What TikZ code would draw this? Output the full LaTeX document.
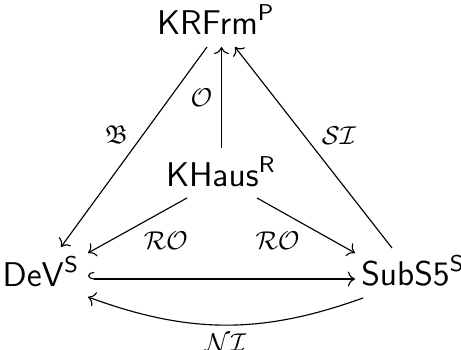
\documentclass[tikz,border=0pt]{standalone}
\usepackage{amssymb}
\usetikzlibrary{arrows.meta,calc}
\begin{document}
\begin{tikzpicture}[x=0.35pt,y=-0.35pt,
  obj/.style={inner sep=0pt, anchor=base, font=\fontsize{12}{14}\selectfont},
  lab/.style={inner sep=0pt, font=\small},
  arr/.style={-{Computer Modern Rightarrow}, line width=0.4pt},
  hookarr/.style={{Hooks[right,length=2.2pt,width=5pt]}-{Computer Modern Rightarrow}, line width=0.4pt}]
\useasboundingbox (0,0) rectangle (461,350);
\node[obj] (K) at (216,35) {$\mathsf{KRFrm}^{\mathsf{P}}$};
\node[obj] (H) at (221,187) {$\mathsf{KHaus}^{\mathsf{R}}$};
\node[obj] (D) at (41,287) {$\mathsf{DeV}^{\mathsf{S}}$};
\node[obj] (S) at (413,286) {$\mathsf{SubS5}^{\mathsf{S}}$};
% B
\draw[arr] ($(K.base)+(-9,12)$) -- node[lab, pos=0.44, left=5pt] {$\mathfrak{B}$} ($(D.base)+(20,-40)$);
% O
\draw[arr] ($(H.base)+(0.5,-39)$) -- node[lab, pos=0.5, left=3pt] {$\mathcal{O}$} ($(K.base)+(5.5,12)$);
% SI
\draw[arr] ($(S.base)+(-21,-38)$) -- node[lab, pos=0.56, right=6pt] {$\mathcal{SI}$} ($(K.base)+(19,12)$);
% RO left
\draw[arr] ($(H.base)+(-34,11)$) -- node[lab, pos=0.5, anchor=north west, inner sep=2pt] {$\mathcal{RO}$} ($(D.base)+(47,-34)$);
% RO right
\draw[arr] ($(H.base)+(36,11)$) -- node[lab, pos=0.5, anchor=north east, inner sep=2pt] {$\mathcal{RO}$} ($(S.base)+(-58,-33)$);
% hook
\draw[hookarr] ($(D.base)+(47,-8)$) -- ($(S.base)+(-58,-7)$);
% NI
\draw[arr] ($(S.base)+(-50,12)$) to[bend left=20] node[lab, pos=0.5, below, inner sep=3pt] {$\mathcal{NI}$} ($(D.base)+(47,10)$);
\end{tikzpicture}
\end{document}
